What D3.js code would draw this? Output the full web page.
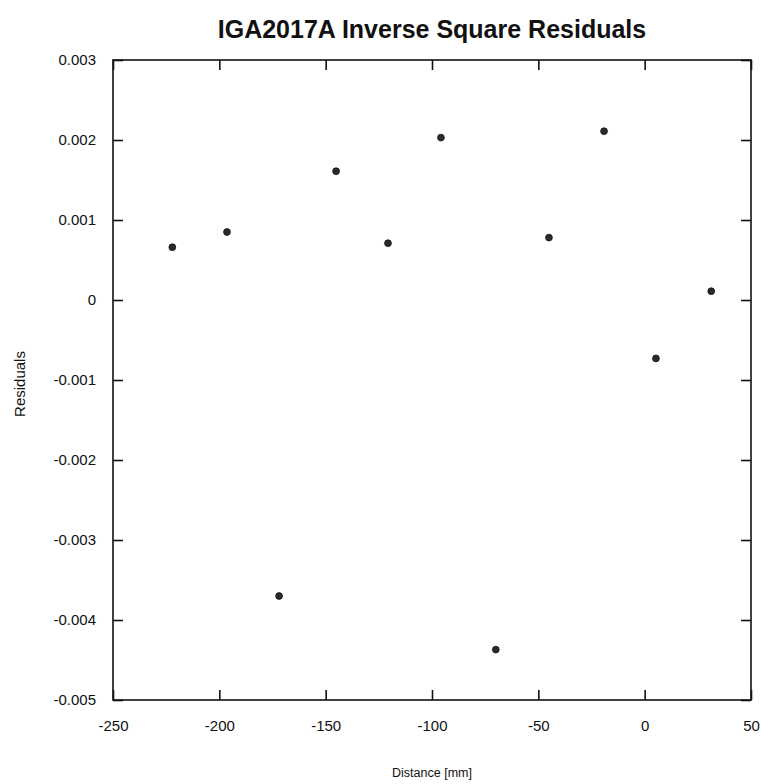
<!DOCTYPE html>
<html>
<head>
<meta charset="utf-8">
<script src="https://cdn.jsdelivr.net/npm/d3@7"></script>
<style>
  html, body { margin: 0; padding: 0; background: #fff; }
  svg { display: block; font-family: "Liberation Sans", Arial, sans-serif; }
</style>
</head>
<body>
<svg id="chart" width="761" height="784"></svg>
<script>
// Residuals of the inverse-square fit, one per measurement position
const distanceMm = [-222.1, -196.4, -171.9, -145.1, -120.7, -95.8, -70.0, -45.0, -19.1, 5.3, 31.3];
const residuals  = [0.00066, 0.00085, -0.0037, 0.00161, 0.00071, 0.00203, -0.00437, 0.00078, 0.00211, -0.00073, 0.00011];

const xTicks = [-250, -200, -150, -100, -50, 0, 50];
const xTickLabels = ["-250", "-200", "-150", "-100", "-50", "0", "50"];
const yTicks = [0.003, 0.002, 0.001, 0, -0.001, -0.002, -0.003, -0.004, -0.005];
const yTickLabels = ["0.003", "0.002", "0.001", "0", "-0.001", "-0.002", "-0.003", "-0.004", "-0.005"];

const titleText = "IGA2017A Inverse Square Residuals";
const xTitle = "Distance [mm]";
const yTitle = "Residuals";

const svg = d3.select("#chart");
const plot = { left: 113, right: 751, top: 60, bottom: 700 };

const x = d3.scaleLinear().domain([-250, 50]).range([plot.left, plot.right]);
const y = d3.scaleLinear().domain([-0.005, 0.003]).range([plot.bottom, plot.top]);

const tickLen = 10;

// Frame
svg.append("rect")
  .attr("x", plot.left).attr("y", plot.top)
  .attr("width", plot.right - plot.left).attr("height", plot.bottom - plot.top)
  .attr("fill", "none").attr("stroke", "#111").attr("stroke-width", 1.6);

// Bottom axis: inward ticks, labels below
const bottomAxis = d3.axisBottom(x).tickValues(xTicks).tickSizeInner(-tickLen).tickSizeOuter(0).tickPadding(20)
  .tickFormat((d, i) => xTickLabels[i]);
const gb = svg.append("g").attr("transform", `translate(0,${plot.bottom})`).call(bottomAxis);

// Top axis: ticks only
const topAxis = d3.axisTop(x).tickValues(xTicks).tickSizeInner(-tickLen).tickSizeOuter(0).tickFormat("");
const gt = svg.append("g").attr("transform", `translate(0,${plot.top})`).call(topAxis);

// Left axis: inward ticks, labels left
const leftAxis = d3.axisLeft(y).tickValues(yTicks).tickSizeInner(-tickLen).tickSizeOuter(0).tickPadding(17)
  .tickFormat((d, i) => yTickLabels[i]);
const gl = svg.append("g").attr("transform", `translate(${plot.left},0)`).call(leftAxis);

// Right axis: ticks only
const rightAxis = d3.axisRight(y).tickValues(yTicks).tickSizeInner(-tickLen).tickSizeOuter(0).tickFormat("");
const gr = svg.append("g").attr("transform", `translate(${plot.right},0)`).call(rightAxis);

[gb, gt, gl, gr].forEach(g => {
  g.select(".domain").remove();
  g.selectAll(".tick line").attr("stroke", "#111").attr("stroke-width", 1.6);
  g.selectAll(".tick text")
    .attr("fill", "#111")
    .style("font-family", '"Liberation Sans", Arial, sans-serif')
    .style("font-size", "15px");
});

// Points
svg.append("g").selectAll("circle")
  .data(distanceMm.map((d, i) => ({ x: d, y: residuals[i] })))
  .join("circle")
  .attr("cx", d => x(d.x))
  .attr("cy", d => y(d.y))
  .attr("r", 3.4)
  .attr("fill", "#2a2a2a")
  .attr("stroke", "#111")
  .attr("stroke-width", 0.8);

// Title
svg.append("text")
  .attr("x", (plot.left + plot.right) / 2).attr("y", 38)
  .attr("text-anchor", "middle")
  .style("font-size", "25px").style("font-weight", "bold")
  .attr("fill", "#111")
  .text(titleText);

// Axis titles
svg.append("text")
  .attr("x", (plot.left + plot.right) / 2).attr("y", 777)
  .attr("text-anchor", "middle")
  .style("font-size", "12.5px")
  .attr("fill", "#111")
  .text(xTitle);

svg.append("text")
  .attr("transform", `translate(25,${(plot.top + plot.bottom) / 2 + 4}) rotate(-90)`)
  .attr("text-anchor", "middle")
  .style("font-size", "15px")
  .attr("fill", "#111")
  .text(yTitle);
</script>
</body>
</html>
